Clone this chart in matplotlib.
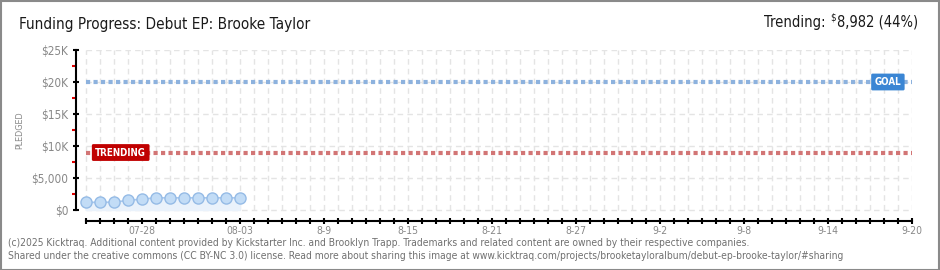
import numpy as np
import matplotlib
matplotlib.use("Agg")
import matplotlib.pyplot as plt
from matplotlib.patches import Rectangle

# --------------------------------- #
# data

days = np.arange(12)
pledged = [1200, 1200, 1220, 1500, 1700, 1900, 1900, 1900, 1900, 1900, 1900, 1900]
numTicks = 60
tickLabelPos = [4, 11, 17, 23, 29, 35, 41, 47, 53, 59]
tickLabels = ["07-28", "08-03", "8-9", "8-15", "8-21", "8-27", "9-2", "9-8", "9-14", "9-20"]
yTicks = [0, 5000, 10000, 15000, 20000, 25000]
yTickLabels = ["$0", "$5,000", "$10K", "$15K", "$20K", "$25K"]
goal = 20000
trending = 8982
trendingPct = 44

plt.rcParams['font.family'] = ["DejaVu Sans"]
plt.rcParams['font.stretch'] = "condensed"

# --------------------------------- #

W, H = 940, 270
fig = plt.figure(figsize=(W / 100, H / 100), dpi=100)
fig.patch.set_facecolor("white")
fig.add_artist(Rectangle((0.5 / W, 0.5 / H), 1 - 1.5 / W, 1 - 1.5 / H, transform=fig.transFigure,
                         fill=False, edgecolor="#8a8a8a", linewidth=1.5))

left, right = 76 / W, 911.7 / W
bottom, top = (H - 220.7) / H, (H - 50) / H
ax = fig.add_axes([left, bottom, right - left, top - bottom])
ax.set_xlim(-(85.7 - 76) / 14, numTicks - 1)
ax.set_ylim(-(220.7 - 210) / 6.4 * 1000, 25000)
ax.patch.set_alpha(0)

# grid
for x in range(numTicks):
    ax.plot([x, x], [0, 25000], color="#e4e4e4", lw=1, ls=(0, (4, 3)), zorder=0)
for y in yTicks:
    ax.plot([0, numTicks - 1], [y, y], color="#e4e4e4", lw=1, ls=(0, (4, 3)), zorder=0)

# goal / trending lines
ax.plot([0, numTicks - 1], [goal, goal], color="#8db2de", lw=3, ls=(0, (1, 0.8)), zorder=2)
ax.plot([0, numTicks - 1], [trending, trending], color="#d27575", lw=3, ls=(0, (1, 0.8)), zorder=2)

ax.text(57.3, goal, "GOAL", color="white", fontsize=7, fontweight="bold", ha="center", va="center", zorder=5,
        bbox=dict(boxstyle="round,pad=0.35,rounding_size=0.15", fc="#3b86d4", ec="none"))
ax.text(2.5, trending, "TRENDING", color="white", fontsize=7, fontweight="bold", ha="center", va="center", zorder=5,
        bbox=dict(boxstyle="round,pad=0.35,rounding_size=0.15", fc="#c00000", ec="none"))

# pledged series
ax.fill_between(days, 0, pledged, color="#eaf2fb", zorder=1)
ax.plot(days, pledged, color="#a9c9ee", lw=1.2, zorder=3)
ax.plot(days, pledged, "o", ms=8, mfc="#c2dcf6", mec="#95bbe6", mew=1, zorder=4)

# axes styling
for s in ["top", "right"]:
    ax.spines[s].set_visible(False)
ax.spines["left"].set_bounds(0, 25000)
ax.spines["bottom"].set_bounds(0, numTicks - 1)
ax.spines["left"].set_linewidth(1.5)
ax.spines["bottom"].set_linewidth(1.5)

ax.set_yticks(yTicks)
ax.set_yticklabels(yTickLabels)
ax.set_yticks(np.arange(2500, 25000, 5000), minor=True)
ax.tick_params(axis="y", which="major", direction="inout", length=5, width=1.5, colors="black",
               labelcolor="#888888", labelsize=8.5, pad=3)
ax.tick_params(axis="y", which="minor", direction="out", length=3, width=1.5, colors="#e00000")

ax.set_xticks(range(numTicks))
ax.set_xticklabels([tickLabels[tickLabelPos.index(i)] if i in tickLabelPos else "" for i in range(numTicks)])
ax.tick_params(axis="x", direction="inout", length=5, width=1.5, colors="black",
               labelcolor="#888888", labelsize=7.5, pad=1)

fig.text(20 / W, 1 - 130 / H, "PLEDGED", rotation=90, color="#888888", fontsize=6.5,
         ha="center", va="center")

# title and trending summary
fig.text(19 / W, 1 - 24 / H, "Funding Progress: Debut EP: Brooke Taylor", fontsize=11,
         color="#1a1a1a", ha="left", va="center")

renderer = fig.canvas.get_renderer()
t1 = fig.text(918 / W, 1 - 22 / H, f"{trending:,} ({trendingPct}%)", fontsize=10.5, color="#1a1a1a",
              ha="right", va="center")
x1 = t1.get_window_extent(renderer).x0
t2 = fig.text((x1 - 1) / W, 1 - 18 / H, "$", fontsize=7, color="#1a1a1a", ha="right", va="center")
x2 = t2.get_window_extent(renderer).x0
fig.text((x2 - 5) / W, 1 - 22 / H, "Trending:", fontsize=10.5, color="#1a1a1a", ha="right", va="center")

# footer
fig.text(8 / W, 1 - 243 / H,
         "(c)2025 Kicktraq. Additional content provided by Kickstarter Inc. and Brooklyn Trapp. "
         "Trademarks and related content are owned by their respective companies.",
         fontsize=7.4, color="#707070", ha="left", va="center")
fig.text(8 / W, 1 - 256 / H,
         "Shared under the creative commons (CC BY-NC 3.0) license. Read more about sharing this image at "
         "www.kicktraq.com/projects/brooketayloralbum/debut-ep-brooke-taylor/#sharing",
         fontsize=7.4, color="#707070", ha="left", va="center")

fig.savefig("out.png", dpi=100)
